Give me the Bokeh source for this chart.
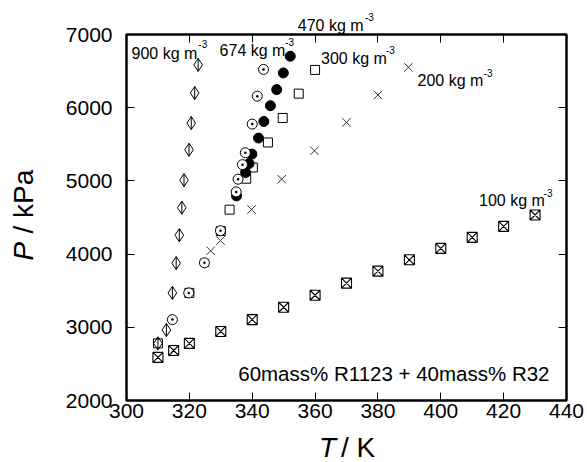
import numpy as np
from bokeh.plotting import figure
from bokeh.models import Range1d, LinearAxis, FixedTicker, Label
from bokeh.embed import file_html
from bokeh.resources import INLINE

# ---- data ----
# 900 kg m-3 (diamonds)
T900 = [310.0, 312.7, 314.6, 315.8, 316.8, 317.6, 318.3, 319.9, 320.6, 321.7, 322.8]
P900 = [2780, 2963, 3470, 3877, 4258, 4634, 5010, 5425, 5790, 6201, 6585]
# 674 kg m-3 (open circles with dot)
T674 = [314.6, 319.8, 324.8, 329.9, 334.9, 335.5, 336.9, 337.8, 340.0, 341.6, 343.6]
P674 = [3105, 3470, 3881, 4320, 4850, 5023, 5222, 5384, 5776, 6158, 6523]
# 470 kg m-3 (filled circles)
T470 = [335.0, 337.9, 339.0, 339.9, 342.0, 343.7, 345.8, 347.8, 349.9, 352.1]
P470 = [4795, 5114, 5237, 5366, 5585, 5812, 6027, 6247, 6475, 6703]
# 300 kg m-3 (open squares)
T300 = [310.0, 320.0, 330.0, 332.8, 338.1, 340.2, 345.0, 349.7, 354.8, 360.0]
P300 = [2780, 3470, 4315, 4607, 5030, 5183, 5525, 5860, 6192, 6516]
# 200 kg m-3 (crosses)
T200 = [325.0, 326.8, 329.9, 339.8, 349.4, 359.8, 370.0, 380.0, 389.7]
P200 = [3881, 4045, 4185, 4610, 5023, 5411, 5800, 6174, 6552]
# 100 kg m-3 (squares with x)
T100 = [310, 315, 320, 330, 340, 350, 360, 370, 380, 390, 400, 410, 420, 430]
P100 = [2589, 2683, 2780, 2943, 3105, 3274, 3438, 3603, 3767, 3922, 4078, 4229, 4379, 4534]

x_ticks = [300, 320, 340, 360, 380, 400, 420, 440]
y_ticks = [2000, 3000, 4000, 5000, 6000, 7000]

series_labels = ["900 kg m", "674 kg m", "470 kg m", "300 kg m", "200 kg m", "100 kg m"]
sup_text = "-3"
note_text = "60mass% R1123 + 40mass% R32"

FONT = "Liberation Sans"
W, H = 587, 462
L, R, TOP, B = 125, 21, 34, 62
XMIN, XMAX, YMIN, YMAX = 300, 440, 2000, 7000
FW, FH = W - L - R, H - TOP - B


def px(x, y):
    """Canvas pixel position -> data units (used only to place annotations)."""
    return (XMIN + (x - L) * (XMAX - XMIN) / FW,
            YMAX - (y - TOP) * (YMAX - YMIN) / FH)


p = figure(width=W, height=H, output_backend="svg", toolbar_location=None,
           x_range=Range1d(XMIN, XMAX), y_range=Range1d(YMIN, YMAX),
           min_border_left=L, min_border_right=R, min_border_top=TOP,
           min_border_bottom=B, x_axis_location=None, y_axis_location=None)
p.grid.visible = False
p.background_fill_color = "white"
p.border_fill_color = "white"
p.outline_line_color = "black"
p.outline_line_width = 2.5


def mk_axis(ticks, show_labels, standoff):
    ax = LinearAxis(ticker=FixedTicker(ticks=ticks))
    ax.axis_line_color = None
    ax.major_tick_in = 8
    ax.major_tick_out = 0
    ax.major_tick_line_color = "black"
    ax.major_tick_line_width = 1
    ax.minor_tick_line_color = None
    ax.major_label_standoff = standoff
    if show_labels:
        ax.major_label_text_font = FONT
        ax.major_label_text_font_size = "21px"
        ax.major_label_text_color = "black"
    else:
        ax.major_label_text_color = None
        ax.major_label_text_font_size = "1px"
    return ax


p.add_layout(mk_axis(x_ticks, True, 3), "below")
p.add_layout(mk_axis(y_ticks, True, 14), "left")
p.add_layout(mk_axis(x_ticks, False, 0), "above")
p.add_layout(mk_axis(y_ticks, False, 0), "right")

# ---- markers ----
p.scatter(T100, P100, marker="square_x", size=10, fill_color=None,
          line_color="black", line_width=1.1)
p.scatter(T200, P200, marker="x", size=12, line_color="#333333", line_width=1)
p.scatter(T300, P300, marker="square", size=9, fill_color=None,
          line_color="black", line_width=1)
p.scatter(T470, P470, marker="circle", size=10, fill_color="black",
          line_color="black", line_width=1)
p.scatter(T674, P674, marker="circle_dot", size=10, fill_color="white",
          line_color="black", line_width=1)
p.scatter(T900, P900, marker="diamond", size=13, fill_color=None,
          line_color="black", line_width=1)
p.scatter(T900, P900, marker="dash", angle=np.pi / 2, size=13,
          line_color="black", line_width=1)


def add_text(x_px, y_px, text, size, style="normal", angle=0.0, place="center"):
    # Annotations outside the frame are parked in a side panel with spare room
    # (panel annotations are not clipped); data units keep absolute positions.
    x, y = px(x_px, y_px)
    lab = Label(x=x, y=y, text=text, text_font=FONT, text_font_size=size,
                text_font_style=style, text_align="left", text_baseline="middle",
                text_color="black", angle=angle, padding=0)
    p.add_layout(lab, place)


# ---- series labels with superscript ----
label_pos = [(130, 52.7, 197, 43.5), (218.3, 50, 284, 41), (296.7, 25, 364, 16),
             (320, 58.3, 385, 49.5), (416.7, 80, 483, 72.3), (478.3, 200, 543, 192.7)]
for i, (txt, (lx, ly, sx, sy)) in enumerate(zip(series_labels, label_pos)):
    outside = ly < TOP
    add_text(lx, ly, txt, "16px", place="above" if outside else "center")
    add_text(sx, sy, sup_text, "10px", place="above" if outside else "center")

add_text(237, 373, note_text, "20.5px")

# ---- axis titles ----
add_text(318, 447, "T", "28px", style="italic", place="right")
add_text(340, 447, "/ K", "28px", place="below")
add_text(22, 260, "P", "28px", style="italic", angle=np.pi / 2, place="left")
add_text(22, 233, "/ kPa", "28px", angle=np.pi / 2, place="left")

open("out.html", "w").write(file_html(p, INLINE))
